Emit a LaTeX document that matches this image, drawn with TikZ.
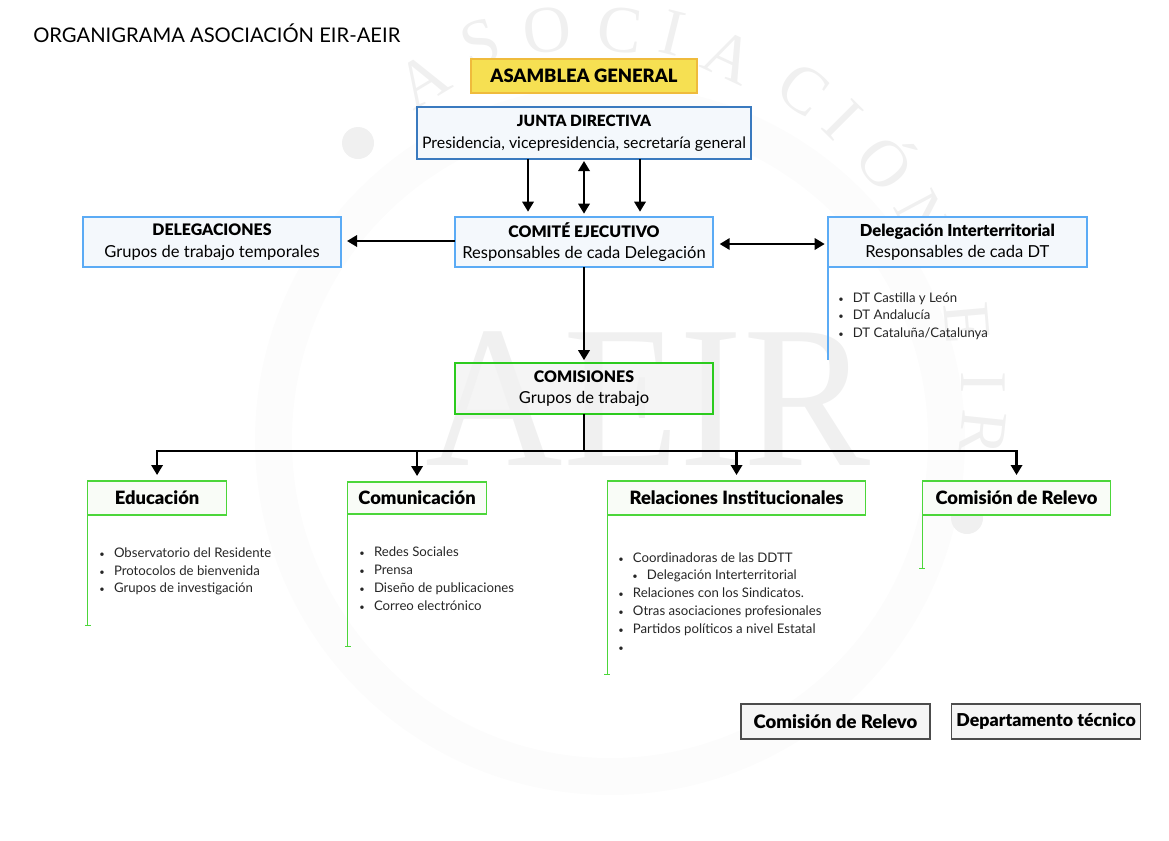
\documentclass[tikz,border=0pt]{standalone}
\usepackage{fontspec}
\setmainfont{Lato}[BoldFont={Lato Black}]
\newfontfamily\marcafont{Liberation Serif}
\usetikzlibrary{positioning,arrows.meta}
\definecolor{amarillo}{HTML}{F6E052}
\definecolor{ambar}{HTML}{EFBB3C}
\definecolor{azuloscuro}{HTML}{3A7ABF}
\definecolor{azul}{HTML}{5BABF5}
\definecolor{fondoazul}{HTML}{F4F8FC}
\definecolor{verde}{HTML}{2CCB1E}
\definecolor{verdeclaro}{HTML}{4CD63A}
\definecolor{fondoverde}{HTML}{F9FCF7}
\definecolor{marca}{HTML}{F0F0F0}
\newcommand{\punto}{\makebox[10.9pt][l]{\scriptsize\textbullet}}
\newcommand{\mayus}[1]{{\fontsize{11.9}{15.75}\selectfont\bfseries #1}}
\begin{document}
\begin{tikzpicture}[x=.75pt,y=-.75pt,on grid,
    caja/.style={draw,outer sep=0pt,align=center,font=\fontsize{12.4}{16}\selectfont},
    asamblea/.style={caja,fill=amarillo,draw=ambar,line width=1.7pt,minimum width=170pt,minimum height=25.5pt,font=\fontsize{13.8}{15}\selectfont\bfseries},
    junta/.style={caja,fill=fondoazul,draw=azuloscuro,line width=1.7pt,minimum width=251pt,minimum height=39pt,font=\fontsize{11.9}{16.2}\selectfont},
    comite/.style={caja,fill=fondoazul,draw=azul,line width=1.7pt,minimum width=193.5pt,minimum height=38pt},
    comision/.style={caja,fill=black!5,fill opacity=.75,text opacity=1,draw=verde,line width=1.7pt,minimum width=193.5pt,minimum height=38pt},
    grupo/.style={caja,fill=fondoverde,draw=verdeclaro,line width=.8pt,minimum height=25.5pt,font=\fontsize{13.75}{15}\selectfont\bfseries},
    apoyo/.style={caja,fill=black!4,draw=black!70,line width=1.1pt,minimum width=141.5pt,minimum height=26pt,font=\fontsize{13.9}{15}\selectfont\bfseries},
    lista/.style={on grid=false,inner sep=0pt,align=left,text=black!85,font=\fontsize{9.9}{13.35}\selectfont},
    tallo/.style={draw=verdeclaro,line width=.8pt,-{Bar[width=4.5pt,length=.8pt]}},
    flecha/.style={line width=1.7pt,-{Triangle[length=7.5pt,width=8.5pt]}},
    dobleflecha/.style={line width=1.7pt,{Triangle[length=7.5pt,width=8.5pt]}-{Triangle[length=7.5pt,width=8.5pt]}}]
   \useasboundingbox (0,0) rectangle (1169,840);
   \fill[black!1,even odd rule] (610,440) circle (355) circle (318);
   \foreach \letra/\cx/\cy/\giro in {A/423/80/31,S/480/43/18,O/547/30/6,C/620/30/-6,I/673/33/-14,A/730/57/-25,C/803/90/-37,I/843/120/-45,Ó/890/160/-52,N/923/217/-62,E/967/323/-85,I/983/383/-90,R/983/433/-96}
      \node[text=marca,inner sep=0pt,rotate=\giro,font=\marcafont\fontsize{50}{50}\selectfont] at (\cx,\cy) {\letra};
   \node[text=marca,inner sep=0pt,xscale=.94,font=\marcafont\fontsize{152}{152}\selectfont] (sigla) at (648,399) {AEIR};
   \fill[marca] (358,143) circle (16) (967,518) circle (16);
   \node[inner sep=0pt,anchor=west,font=\fontsize{15.15}{18}\selectfont] (titulo) at (33,33) {ORGANIGRAMA ASOCIACIÓN EIR-AEIR};
   \node[comite] (ejecutivo) at (584,242) {\mayus{COMITÉ EJECUTIVO}\\Responsables de cada Delegación};
   \node[junta] (directiva) [above=81.75pt of ejecutivo] {{\fontsize{11.6}{16}\selectfont\bfseries JUNTA DIRECTIVA}\\Presidencia, vicepresidencia, secretaría general};
   \node[asamblea] (general) [above=42.75pt of directiva] {ASAMBLEA GENERAL};
   \node[comite] (delegaciones) [left=279pt of ejecutivo] {\mayus{DELEGACIONES}\\Grupos de trabajo temporales};
   \node[comite,minimum width=194pt] (interterritorial) [right=280pt of ejecutivo] {\textbf{Delegación Interterritorial}\\Responsables de cada DT};
   \node[comision] (comisiones) [below=109.9pt of ejecutivo] {\mayus{COMISIONES}\\Grupos de trabajo};
   \coordinate[below=46.9pt of comisiones] (reparto);
   \node[grupo,minimum width=194pt] (relaciones) [below right=82.1pt and 114.4pt of comisiones] {Relaciones Institucionales};
   \node[grupo,minimum width=104pt] (educacion) [left=434.6pt of relaciones] {Educación};
   \node[grupo,minimum width=104pt,minimum height=24pt] (comunicacion) [left=239.6pt of relaciones] {Comunicación};
   \node[grupo,minimum width=141.5pt] (relevo) [right=210pt of relaciones] {Comisión de Relevo};
   \node[apoyo] (relevobis) [below left=167.6pt and 135.75pt of relevo] {Comisión de Relevo};
   \node[apoyo,font=\fontsize{13.3}{15}\selectfont\bfseries] (tecnico) [right=157.9pt of relevobis] {Departamento técnico};
   \node[lista] (listadt) [below right=18.6pt and 7.5pt of interterritorial.south west] {\punto DT Castilla y León\\\punto DT Andalucía\\\punto DT Cataluña/Catalunya};
   \node[lista] (listaeducacion) [below right=24.2pt and 8.6pt of educacion.south west] {\punto Observatorio del Residente\\\punto Protocolos de bienvenida\\\punto Grupos de investigación};
   \node[lista] (listacomunicacion) [below right=24.6pt and 8.6pt of comunicacion.south west] {\punto Redes Sociales\\\punto Prensa\\\punto Diseño de publicaciones\\\punto Correo electrónico};
   \node[lista] (listarelaciones) [below right=27.8pt and 8.2pt of relaciones.south west] {\punto Coordinadoras de las DDTT\\\hspace{10.5pt}\punto Delegación Interterritorial\\\punto Relaciones con los Sindicatos.\\\punto Otras asociaciones profesionales\\\punto Partidos políticos a nivel Estatal\\\punto};
   \coordinate[below=69.5pt of interterritorial.south west] (finI);
   \coordinate[below=83.25pt of educacion.south west] (finE);
   \coordinate[below=100pt of comunicacion.south west] (finC);
   \coordinate[below=120pt of relaciones.south west] (finR);
   \coordinate[below=40.5pt of relevo.south west] (finB);
   \draw[draw=azul,line width=.8pt] (interterritorial.south west) -- (finI);
   \draw[tallo] (educacion.south west) -- (finE);
   \draw[tallo] (comunicacion.south west) -- (finC);
   \draw[tallo] (relaciones.south west) -- (finR);
   \draw[tallo] (relevo.south west) -- (finB);
   \path[flecha]
        ([xshift=-42pt]directiva.south) edge[shorten >=3.75pt] ([xshift=-42pt]ejecutivo.north)
        ([xshift=42pt]directiva.south) edge[shorten >=3.75pt] ([xshift=42pt]ejecutivo.north)
        ([yshift=.75pt]ejecutivo.west) edge[shorten >=4.5pt] ([yshift=.75pt]delegaciones.east)
        (ejecutivo.south) edge[shorten >=2.25pt] (comisiones.north)
        ;
   \path[dobleflecha]
        (directiva.south) edge[shorten <=1.5pt,shorten >=2.25pt] (ejecutivo.north)
        ([yshift=-1.5pt]ejecutivo.east) edge[shorten <=5pt,shorten >=2.5pt] ([yshift=-1.5pt]interterritorial.west)
        ;
   \draw[line width=1.7pt] (comisiones.south) -- (reparto);
   \draw[flecha,shorten >=4.5pt] (reparto) -| (educacion.north);
   \draw[flecha,shorten >=4.5pt] (reparto) -| (comunicacion.north);
   \draw[flecha,shorten >=4.5pt] (reparto) -| (relaciones.north);
   \draw[flecha,shorten >=4.5pt] (reparto) -| (relevo.north);
\end{tikzpicture}
\end{document}
